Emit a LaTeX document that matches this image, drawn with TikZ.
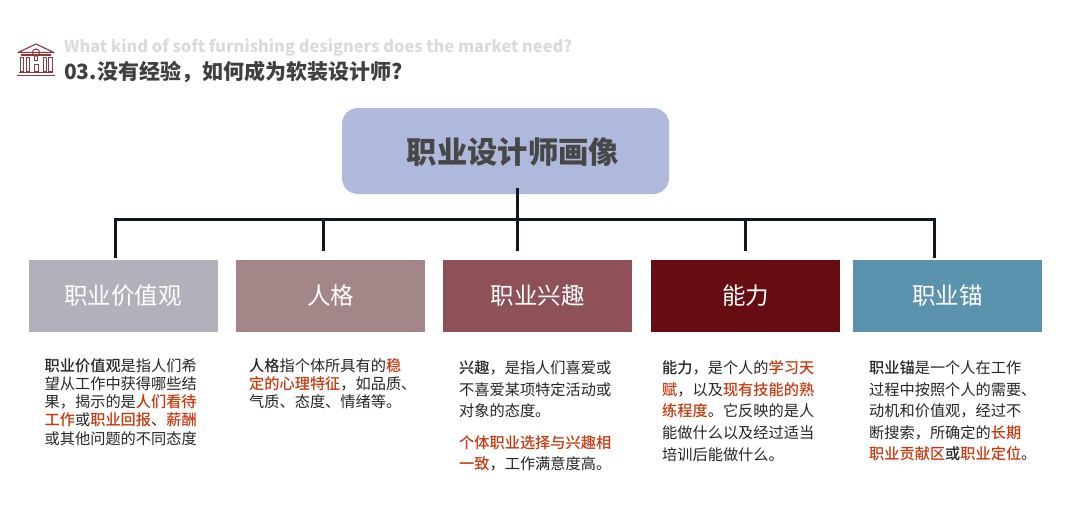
\documentclass[tikz,border=0pt]{standalone}
\usepackage{fontspec}
\setmainfont{Noto Sans CJK SC}
\newfontfamily\bodyfont[BoldFont={Noto Sans CJK SC Medium}]{Noto Sans CJK SC}
\definecolor{hl}{HTML}{C93A10}
\definecolor{ink}{HTML}{262626}
\definecolor{linec}{HTML}{111722}
\definecolor{icon}{HTML}{8C3A3A}
\definecolor{mainc}{HTML}{AFB9DB}
\definecolor{ca}{HTML}{B1B1BB}
\definecolor{cb}{HTML}{A28688}
\definecolor{cc}{HTML}{8F5158}
\definecolor{cd}{HTML}{660C12}
\definecolor{ce}{HTML}{5B92AE}
\newcommand{\hlt}[1]{\textbf{\textcolor{hl}{#1}}}
\tikzset{
  catbox/.style={minimum width=189pt,minimum height=72pt,inner sep=0pt,text=white,font=\fontsize{23.5}{26}\selectfont},
  bodytext/.style={anchor=north west,inner sep=0pt,align=left,text=ink,font=\bodyfont\fontsize{15.2}{18.25}\selectfont},
  widetext/.style={bodytext,font=\bodyfont\fontsize{15.2}{21.6}\selectfont},
  conn/.style={draw=linec,line width=3pt},
  iconline/.style={draw=icon,line width=1.1pt}
}
\begin{document}
\begin{tikzpicture}[x=1pt,y=-1pt]
\useasboundingbox (0,0) rectangle (1080,517);
\fill[white] (0,0) rectangle (1080,517);
% icon
\draw[iconline,line join=round] (18,52.5) -- (36,44) -- (54,52.5) -- cycle;
\draw[iconline] (21,55) -- (51,55);
\draw[iconline] (17,75.5) -- (55,75.5) (19,72.5) -- (53,72.5);
\foreach \i in {20,26,43,48.5}{\draw[iconline,line width=1pt] (\i,57) rectangle (\i+3.6,71);}
\draw[iconline,line width=1pt] (34,64) -- (34,71) -- (38,71) -- (38,64) -- cycle;
\draw[iconline,line width=1pt] (34.5,60.5) -- (37.5,60.5) (36,52.5) circle (3.6);
\draw[iconline,line width=1pt] (34.5,56) -- (34.5,60.5) (37.5,56) -- (37.5,60.5);
% titles
\node[anchor=west,inner sep=0pt,text=black!14,font=\bfseries\fontsize{16.4}{20}\selectfont] (en) at (64,48) {What kind of soft furnishing designers does the market need?};
\node[anchor=west,inner sep=0pt,text=black!75,font=\bfseries\fontsize{21}{24}\selectfont] (title) at (64,72) {03.没有经验，如何成为软装设计师?};
% main
\node[inner sep=0pt,minimum width=327pt,minimum height=86pt,rounded corners=16pt,fill=mainc] (main) at (505.5,151) {};
\node[text=black!72,inner sep=0pt,font=\bfseries\fontsize{30.3}{34}\selectfont] (maintext) at (513,152.5) {职业设计师画像};
% categories
\node[catbox,fill=ca] (b1) at (123,296) {职业价值观};
\node[catbox,fill=cb] (b2) at (330.5,296) {人格};
\node[catbox,fill=cc] (b3) at (537.5,296) {职业兴趣};
\node[catbox,fill=cd] (b4) at (745.5,296) {能力};
\node[catbox,fill=ce] (b5) at (947.5,296) {职业锚};
% connectors
\coordinate (top) at (517,188);
\coordinate (hl) at (115,219);
\coordinate (hr) at (934,219);
\coordinate (e1) at (115,258);
\coordinate (e2) at (323,251);
\coordinate (e3) at (517,251);
\coordinate (e4) at (745,251);
\coordinate (e5) at (934,258);
\coordinate (j2) at (323,219);
\coordinate (j4) at (745,219);
\draw[conn,line join=miter] (e1) -- (hl) -- (hr) -- (e5);
\draw[conn] (top) -- (e3);
\draw[conn] (j2) -- (e2);
\draw[conn] (j4) -- (e4);
% body
\node[bodytext] (t1) at (44.5,358) {\textbf{职业价值观}是指人们希\\望从工作中获得哪些结\\果，揭示的是\hlt{人们看待}\\\hlt{工作}或\hlt{职业回报}、\hlt{薪酬}\\或其他问题的不同态度};
\node[bodytext] (t2) at (249,358) {\textbf{人格}指个体所具有的\hlt{稳}\\\hlt{定的心理特征}，如品质、\\气质、态度、情绪等。};
\node[widetext] (t3) at (459,360.5) {\textbf{兴趣}，是指人们喜爱或\\不喜爱某项特定活动或\\对象的态度。};
\node[widetext] (t3b) at (459,435) {\hlt{个体职业选择与兴趣相}\\\hlt{一致}，工作满意度高。};
\node[widetext] (t4) at (662,360.5) {\textbf{能力}，是个人的\hlt{学习天}\\\hlt{赋}，以及\hlt{现有技能的熟}\\\hlt{练程度}。它反映的是人\\能做什么以及经过适当\\培训后能做什么。};
\node[widetext] (t5) at (869,360.5) {\textbf{职业锚}是一个人在工作\\过程中按照个人的需要、\\动机和价值观，经过不\\断搜索，所确定的\hlt{长期}\\\hlt{职业贡献区}\textbf{或}\hlt{职业定位}。};
\end{tikzpicture}
\end{document}
